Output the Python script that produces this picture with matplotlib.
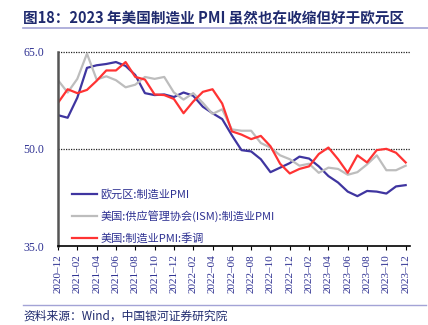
import matplotlib.pyplot as plt

# 2020-12 .. 2023-12 monthly
months = ["2020-12"] + [f"{y}-{m:02d}" for y in (2021, 2022, 2023) for m in range(1, 13)]

euro_pmi = [55.2, 54.8, 57.9, 62.5, 62.9, 63.1, 63.4, 62.8, 61.4, 58.6, 58.3, 58.4, 58.0,
            58.7, 58.2, 56.5, 55.5, 54.6, 52.1, 49.8, 49.6, 48.4, 46.4, 47.1, 47.8,
            48.8, 48.5, 47.3, 45.8, 44.8, 43.4, 42.7, 43.5, 43.4, 43.1, 44.2, 44.4]
ism_pmi = [60.6, 58.7, 60.8, 64.7, 60.7, 61.2, 60.6, 59.5, 59.9, 61.1, 60.8, 61.1, 58.7,
           57.6, 58.6, 57.1, 55.4, 56.1, 53.0, 52.8, 52.8, 50.9, 50.2, 49.0, 48.4,
           47.4, 47.7, 46.3, 47.1, 46.9, 46.0, 46.4, 47.6, 49.0, 46.7, 46.7, 47.4]
us_pmi = [57.1, 59.2, 58.6, 59.1, 60.5, 62.1, 62.1, 63.4, 61.1, 60.7, 58.4, 58.3, 57.7,
          55.5, 57.3, 58.8, 59.2, 57.0, 52.7, 52.2, 51.5, 52.0, 50.4, 47.7, 46.2,
          46.9, 47.3, 49.2, 50.2, 48.4, 46.3, 49.0, 47.9, 49.8, 50.0, 49.4, 47.9]

series_names = ["欧元区:制造业PMI", "美国:供应管理协会(ISM):制造业PMI", "美国:制造业PMI:季调"]
y_ticks = [35.0, 50.0, 65.0]

navy = "#2E3192"
cjk = ["Noto Sans CJK SC", "DejaVu Sans"]
serif = ["Liberation Serif", "Noto Sans CJK SC"]

fig = plt.figure(figsize=(4.28, 3.25), dpi=100)
ax = fig.add_axes([0.1355, 0.243, 0.958 - 0.1355, 0.598])

x = list(range(len(months)))
ax.plot(x, euro_pmi, color="#3F35A0", lw=1.6, label=series_names[0])
ax.plot(x, ism_pmi, color="#BDBDBD", lw=1.6, label=series_names[1])
ax.plot(x, us_pmi, color="#FF3333", lw=1.6, label=series_names[2])

ax.set_xlim(0, 36.45)
ax.set_ylim(35, 65)
for v in (50, 65):
    ax.axhline(v, color="#222222", lw=0.9, ls=(0, (1, 1)), clip_on=False, zorder=0)

ax.set_xticks(x[::2])
ax.set_xticklabels([m.replace("-", "–") for m in months[::2]], rotation=90,
                   family=serif, fontsize=8, color=navy)
ax.tick_params(axis="x", length=3, width=0.8, color="black", pad=3)
ax.set_yticks(y_ticks)
ax.set_yticklabels([f"{v:.1f}" for v in y_ticks], family=serif, fontsize=8.5, color=navy)
ax.tick_params(axis="y", length=0, pad=10)

for side in ("top", "right"):
    ax.spines[side].set_visible(False)
ax.spines["left"].set_color("#555555")
ax.spines["left"].set_linewidth(1.8)
ax.spines["bottom"].set_color("black")
ax.spines["bottom"].set_linewidth(1.2)

leg = ax.legend(loc="lower left", bbox_to_anchor=(0.01, -0.04), frameon=False,
                prop={"family": cjk, "size": 8}, handlelength=2.3, handletextpad=0.3,
                labelspacing=0.95, labelcolor=navy)

fig.text(0.054, 0.944, "图18：2023 年美国制造业 PMI 虽然也在收缩但好于欧元区",
         family=cjk, fontsize=10.5, fontweight="bold", color="#1F2A6E", va="center")
fig.add_artist(plt.Line2D([0.054, 1.0], [0.915, 0.915], color="#A3A3D6", lw=1.2))
fig.add_artist(plt.Line2D([0.054, 0.995], [0.062, 0.062], color="#A3A3D6", lw=1.0))
fig.text(0.054, 0.028, "资料来源：Wind，中国银河证券研究院", family=cjk, fontsize=8.5,
         style="italic", color="#1F2A6E", va="center")

fig.savefig("out.png", dpi=100)
plt.close(fig)
